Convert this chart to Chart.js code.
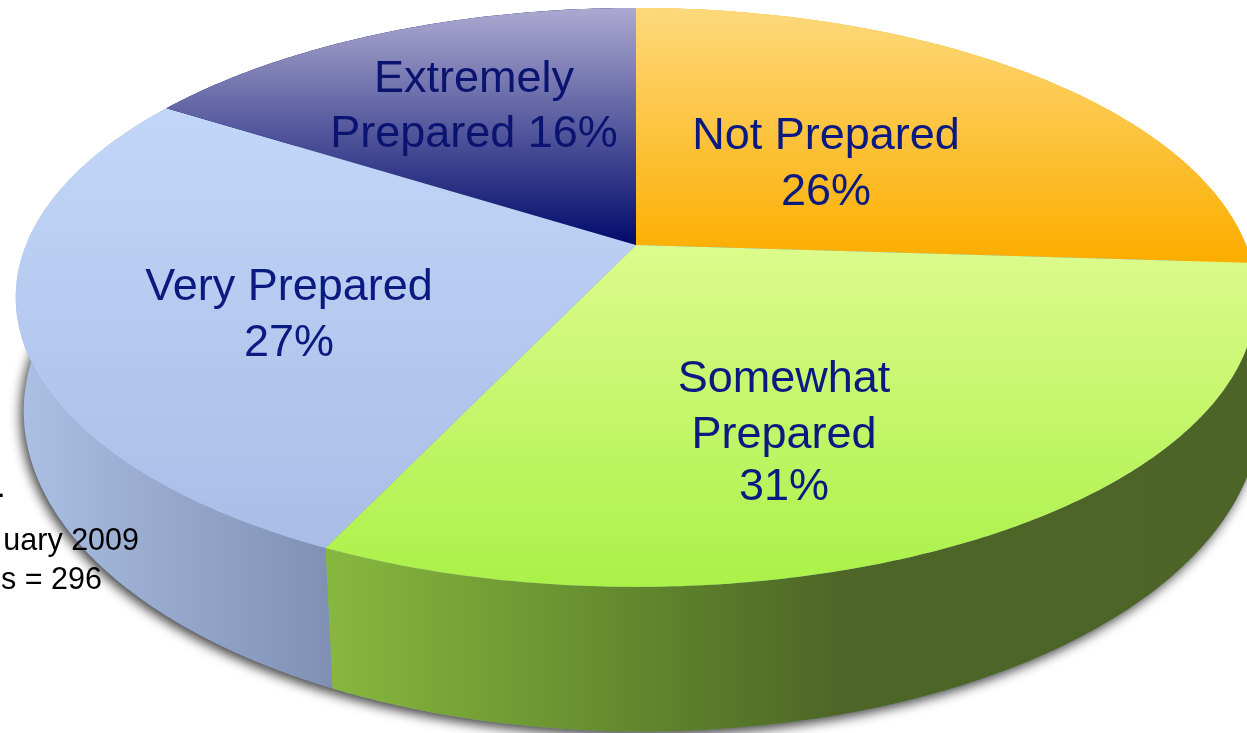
<!DOCTYPE html>
<html>
<head>
<meta charset="utf-8">
<title>Preparedness</title>
<script src="https://cdn.jsdelivr.net/npm/chart.js@4/dist/chart.umd.min.js"></script>
<style>
html, body { margin: 0; padding: 0; background: #fff; overflow: hidden; }
canvas { display: block; }
</style>
</head>
<body>
<canvas id="pie" width="1247" height="733"></canvas>
<script>
var categories = ["Not Prepared", "Somewhat Prepared", "Very Prepared", "Extremely Prepared"];
var percents = [26, 31, 27, 16];

// top face and bottom rim of the disc, seen in perspective
var topFace = { cx: 636, cy: 245, a: 610, b: 280, p: 0.181 };
var bottomRim = { cx: 642, cy: 353, a: 608, b: 310, p: 0.181 };

var topColors = [
  [8, "#fdd97c", 258, "#fcae00"],
  [245, "#dcfb8c", 587, "#abf148"],
  [115, "#c2d6f8", 545, "#a9bde7"],
  [8, "#aca9d0", 245, "#000a6b"]
];
var sideStops = [
  [[0, "#fcae00"], [1, "#fcae00"]],
  [[0.265, "#88b73f"], [0.44, "#6c9632"], [0.56, "#5a7d2b"], [0.68, "#4d6527"], [1, "#4d6428"]],
  [[0.02, "#aabfe2"], [0.265, "#7f90b4"]],
  [[0, "#000a6b"], [1, "#000a6b"]]
];

// text lines for each slice, the spots are just where they sit on the picture
var sliceLabels = [
  { lines: ["Not Prepared", "26%"], x: 826, y: [149, 205], color: "#0b1a80" },
  { lines: ["Somewhat", "Prepared", "31%"], x: 784, y: [392, 448, 500], color: "#0b1a80" },
  { lines: ["Very Prepared", "27%"], x: 289, y: [300, 356], color: "#0b1a80" },
  { lines: ["Extremely", "Prepared 16%"], x: 474, y: [92, 147], color: "#0a1470" }
];
var noteLines = [".", "uary 2009", "s = 296"];

function project(f, angle) {
  var u = Math.cos(angle), v = Math.sin(angle);
  var d = 1 - f.p * v;
  return { x: f.cx + f.a * u / d, y: f.cy + f.b * v / d };
}

function rimPoints(f, start, end) {
  var pts = [];
  var steps = Math.max(2, Math.ceil((end - start) / 0.01));
  for (var i = 0; i <= steps; i++) {
    pts.push(project(f, start + (end - start) * i / steps));
  }
  return pts;
}

function tracePoints(ctx, pts, first) {
  for (var i = 0; i < pts.length; i++) {
    if (i == 0 && first) ctx.moveTo(pts[i].x, pts[i].y);
    else ctx.lineTo(pts[i].x, pts[i].y);
  }
}

var pie3d = {
  id: "pie3d",
  beforeDatasetsDraw: function (chart) {
    var ctx = chart.ctx;
    var arcs = chart.getDatasetMeta(0).data;

    // soft shadow under the whole disc
    ctx.save();
    ctx.shadowColor = "rgba(0,0,0,0.75)";
    ctx.shadowBlur = 12;
    ctx.shadowOffsetX = -3;
    ctx.shadowOffsetY = 4;
    ctx.fillStyle = "#7f90b4";
    ctx.beginPath();
    tracePoints(ctx, rimPoints(bottomRim, 0, Math.PI * 2), true);
    ctx.closePath();
    ctx.fill();
    ctx.restore();

    // sides first, the top face hides whatever is at the back
    for (var i = 0; i < arcs.length; i++) {
      var side = ctx.createLinearGradient(0, 0, 1247, 0);
      sideStops[i].forEach(function (s) { side.addColorStop(s[0], s[1]); });
      ctx.fillStyle = side;
      ctx.beginPath();
      tracePoints(ctx, rimPoints(topFace, arcs[i].startAngle, arcs[i].endAngle), true);
      tracePoints(ctx, rimPoints(bottomRim, arcs[i].startAngle, arcs[i].endAngle).reverse(), false);
      ctx.closePath();
      ctx.fill();
    }

    // top face
    for (var j = 0; j < arcs.length; j++) {
      ctx.fillStyle = arcs[j].options.backgroundColor;
      ctx.beginPath();
      ctx.moveTo(topFace.cx, topFace.cy);
      tracePoints(ctx, rimPoints(topFace, arcs[j].startAngle, arcs[j].endAngle), false);
      ctx.closePath();
      ctx.fill();
    }
    return false;
  },
  // afterDatasetsDraw is skipped once the draw above is cancelled
  afterDraw: function (chart) {
    var ctx = chart.ctx;
    ctx.save();
    ctx.textAlign = "center";
    ctx.textBaseline = "alphabetic";
    ctx.font = '45px "Liberation Sans", Arial, sans-serif';
    sliceLabels.forEach(function (l) {
      ctx.fillStyle = l.color;
      l.lines.forEach(function (t, k) { ctx.fillText(t, l.x, l.y[k]); });
    });
    ctx.fillStyle = "#000";
    ctx.font = '30.5px "Liberation Sans", Arial, sans-serif';
    ctx.textAlign = "left";
    ctx.fillText(noteLines[0], -3, 497);
    ctx.textAlign = "right";
    ctx.fillText(noteLines[1], 139, 550);
    ctx.fillText(noteLines[2], 102, 589);
    ctx.restore();
  }
};

new Chart(document.getElementById("pie"), {
  type: "pie",
  data: {
    labels: categories,
    datasets: [{
      data: percents,
      borderWidth: 0,
      backgroundColor: function (c) {
        var stops = topColors[c.dataIndex];
        if (!stops) return "#000";
        var g = c.chart.ctx.createLinearGradient(0, stops[0], 0, stops[2]);
        g.addColorStop(0, stops[1]);
        g.addColorStop(1, stops[3]);
        return g;
      }
    }]
  },
  options: {
    responsive: false,
    animation: false,
    plugins: { legend: { display: false }, tooltip: { enabled: false } }
  },
  plugins: [pie3d]
});
</script>
</body>
</html>
